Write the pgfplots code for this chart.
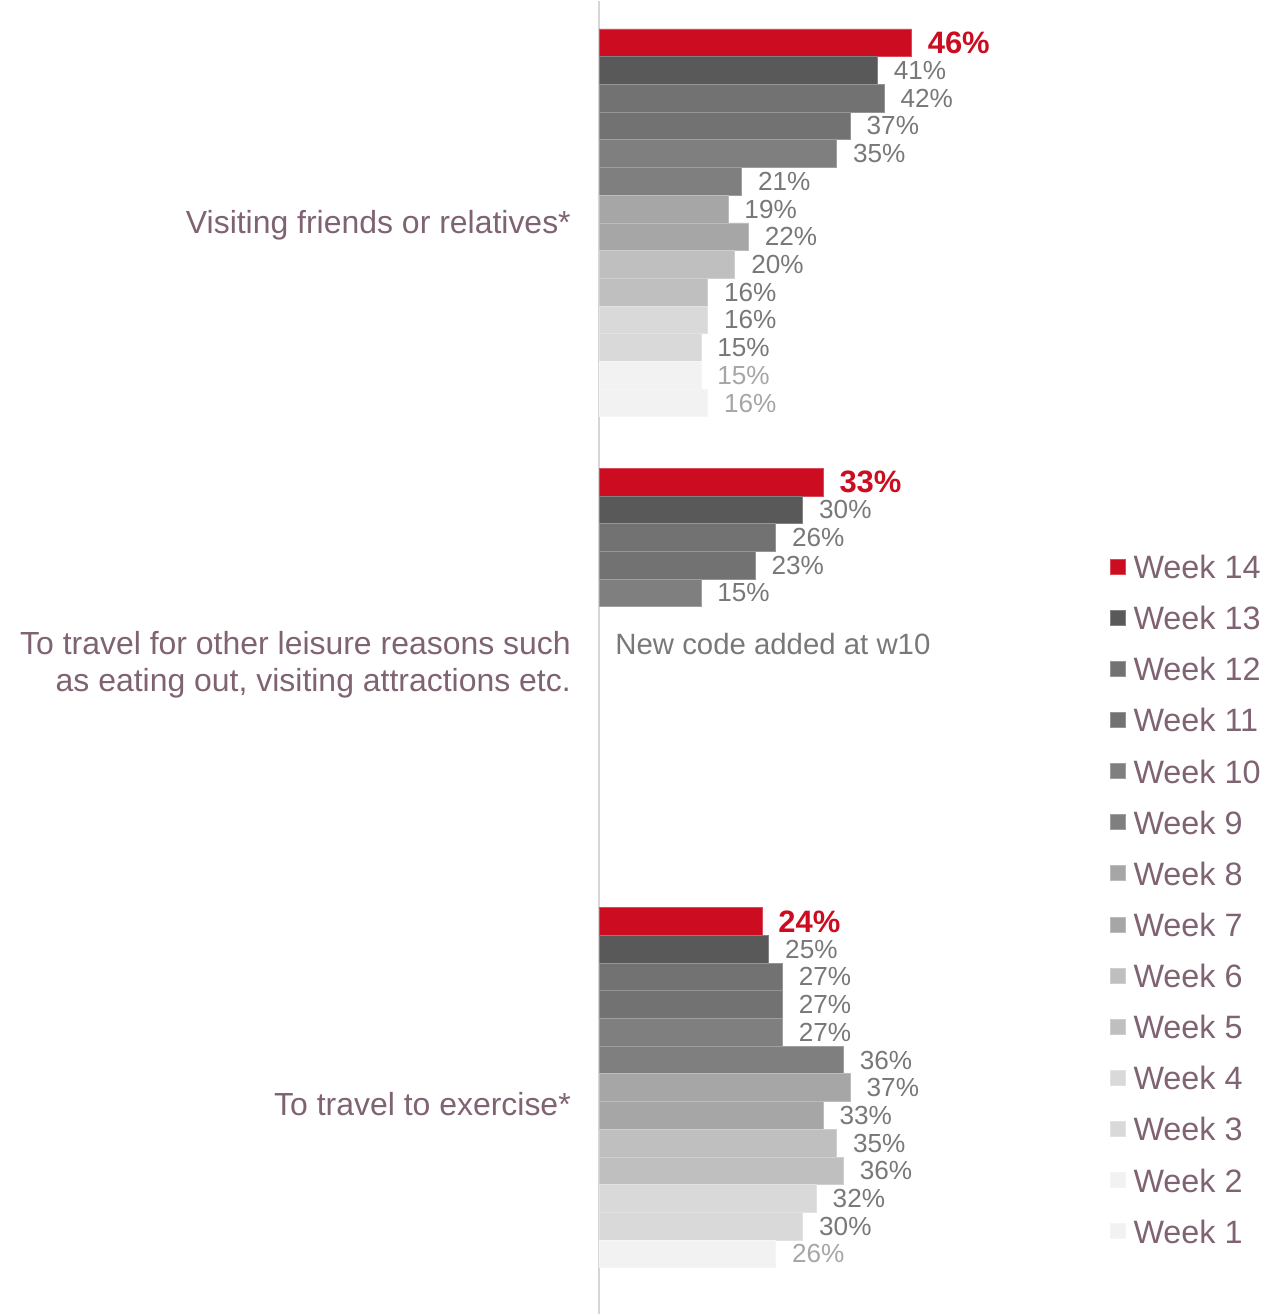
\documentclass[border=0pt]{standalone}
\usepackage{fontspec}
\setmainfont{Liberation Sans}
\usepackage{pgfplots}
\pgfplotsset{compat=1.18}

\definecolor{wk14}{RGB}{204,12,32}
\definecolor{wk13}{RGB}{89,89,89}
\definecolor{wk12}{RGB}{114,114,114}
\definecolor{wk10}{RGB}{127,127,127}
\definecolor{wk8}{RGB}{166,166,166}
\definecolor{wk6}{RGB}{191,191,191}
\definecolor{wk4}{RGB}{217,217,217}
\definecolor{wk2}{RGB}{242,242,242}
\definecolor{catcol}{RGB}{127,99,115}
\definecolor{labcol}{RGB}{120,120,120}
\definecolor{lablight}{RGB}{166,166,166}
\definecolor{axcol}{RGB}{218,211,215}

% y positions are pixel rows of the bar centres (group starts 28, 468, 908; bar = 27.75)
\begin{document}
\begin{tikzpicture}
\begin{axis}[
  scale only axis,
  width=637.5bp, height=657.5bp,
  xmin=-88.235, xmax=99.265,
  ymin=0, ymax=1315, y dir=reverse,
  axis x line=none, axis y line=middle,
  axis line style={-, draw=axcol, line width=1bp},
  xtick=\empty,
  ytick={222,662,1102},
  yticklabels={Visiting friends or relatives*,
    {To travel for other leisure reasons such\\as eating out, visiting attractions etc.},
    To travel to exercise*},
  major tick length=0pt,
  yticklabel style={anchor=east, align=right, inner sep=0pt, xshift=-14bp, yshift=-1.5bp,
    text=catcol, font=\fontsize{16bp}{18.5bp}\selectfont},
  xbar, bar width=27.75, bar shift=0pt,
  clip=false,
  point meta=x,
  nodes near coords={\pgfmathprintnumber{\pgfplotspointmeta}\%},
  every node near coord/.append style={anchor=west, inner sep=0pt, xshift=8bp,
    text=labcol, font=\fontsize{13.1bp}{15bp}\selectfont},
  /pgf/number format/assume math mode=true,
  bs/.style={fill=#1, draw=#1!75!white, line width=0.4bp},
  legend style={draw=none, fill=none, at={(0.8714,0.5787)}, anchor=north west,
    inner sep=0pt, row sep=13.6bp, column sep=4bp,
    nodes={inner sep=0pt, text height=12bp, text depth=0pt},
    font=\fontsize{16.2bp}{18bp}\selectfont, text=catcol},
  legend cell align=left,
  legend image code/.code={\fill[#1] (0bp,-3.75bp) rectangle (7.5bp,3.75bp);},
]
\path (rel axis cs:0,0) rectangle (rel axis cs:1,1);

\addplot[bs=wk14, nodes near coords style={text=wk14, font=\bfseries\fontsize{15.5bp}{18bp}\selectfont}]
  coordinates {(46,41.875) (33,481.875) (24,921.875)};
\addlegendentry{Week 14}
\addplot[bs=wk13] coordinates {(41,69.625) (30,509.625) (25,949.625)};
\addlegendentry{Week 13}
\addplot[bs=wk12] coordinates {(42,97.375) (26,537.375) (27,977.375)};
\addlegendentry{Week 12}
\addplot[bs=wk12] coordinates {(37,125.125) (23,565.125) (27,1005.125)};
\addlegendentry{Week 11}
\addplot[bs=wk10] coordinates {(35,152.875) (15,592.875) (27,1032.875)};
\addlegendentry{Week 10}
\addplot[bs=wk10] coordinates {(21,180.625) (36,1060.625)};
\addlegendentry{Week 9}
\addplot[bs=wk8] coordinates {(19,208.375) (37,1088.375)};
\addlegendentry{Week 8}
\addplot[bs=wk8] coordinates {(22,236.125) (33,1116.125)};
\addlegendentry{Week 7}
\addplot[bs=wk6] coordinates {(20,263.875) (35,1143.875)};
\addlegendentry{Week 6}
\addplot[bs=wk6] coordinates {(16,291.625) (36,1171.625)};
\addlegendentry{Week 5}
\addplot[bs=wk4] coordinates {(16,319.375) (32,1199.375)};
\addlegendentry{Week 4}
\addplot[bs=wk4] coordinates {(15,347.125) (30,1227.125)};
\addlegendentry{Week 3}
\addplot[bs=wk2, nodes near coords style={text=lablight}] coordinates {(15,374.875) (26,1254.875)};
\addlegendentry{Week 2}
\addplot[bs=wk2, nodes near coords style={text=lablight}] coordinates {(16,402.625)};
\addlegendentry{Week 1}

\node[anchor=west, inner sep=0pt, text=labcol, font=\fontsize{14.7bp}{17bp}\selectfont]
  at (axis cs:2.35,644) {New code added at w10};
\end{axis}
\end{tikzpicture}
\end{document}
